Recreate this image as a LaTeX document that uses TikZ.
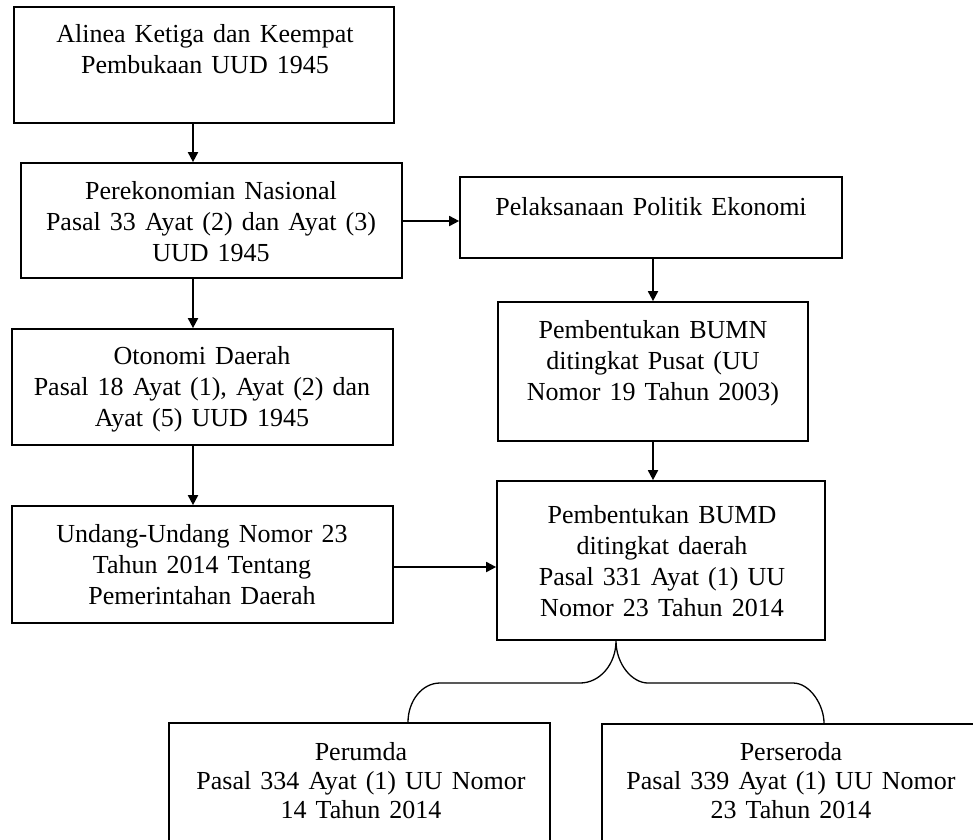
\documentclass[tikz,border=0pt]{standalone}
\usepackage{fontspec}
\setmainfont[WordSpace=1.4]{Liberation Serif}
\usetikzlibrary{arrows.meta}
\begin{document}
\begin{tikzpicture}[x=1pt,y=-1pt,
  box/.style={draw,line width=1.7pt,inner sep=0pt,rectangle},
  txt/.style={anchor=north,align=center,inner sep=0pt,
    font=\fontsize{26}{31}\selectfont},
  lowtxt/.style={txt,font=\fontsize{26}{29}\selectfont},
  arr/.style={line width=1.8pt,-{Triangle[length=10pt,width=10pt]}},
  brace/.style={line width=1.3pt}]
\useasboundingbox (0,0) rectangle (973,839);
\clip (0,0) rectangle (973,839);

% boxes
\node[box,minimum width=380pt,minimum height=116pt] (b1) at (204,65) {};
\node[box,minimum width=381pt,minimum height=115pt] (b2) at (211.5,220.5) {};
\node[box,minimum width=382pt,minimum height=81pt]  (b3) at (651,217.5) {};
\node[box,minimum width=381pt,minimum height=116pt] (b4) at (202.5,387) {};
\node[box,minimum width=310pt,minimum height=139pt] (b5) at (653,371.5) {};
\node[box,minimum width=381pt,minimum height=117pt] (b6) at (202.5,564.5) {};
\node[box,minimum width=328pt,minimum height=159pt] (b7) at (661,560.5) {};
\node[box,minimum width=381pt,minimum height=130pt] (b8) at (359.5,788) {};
\node[box,minimum width=378pt,minimum height=129pt] (b9) at (791,788.5) {};

% texts
\node[txt] (t1) at (205,24) {Alinea Ketiga dan Keempat\\Pembukaan UUD 1945};
\node[txt] (t2) at (211,181) {Perekonomian Nasional\\Pasal 33 Ayat (2) dan Ayat (3)\\UUD 1945};
\node[txt] (t3) at (651,197) {Pelaksanaan Politik Ekonomi};
\node[txt] (t4) at (202,346) {Otonomi Daerah\\Pasal 18 Ayat (1), Ayat (2) dan\\Ayat (5) UUD 1945};
\node[txt] (t5) at (653,320) {Pembentukan BUMN\\ditingkat Pusat (UU\\Nomor 19 Tahun 2003)};
\node[txt] (t6) at (202,524) {Undang-Undang Nomor 23\\Tahun 2014 Tentang\\Pemerintahan Daerah};
\node[txt] (t7) at (662,505) {Pembentukan BUMD\\ditingkat daerah\\Pasal 331 Ayat (1) UU\\Nomor 23 Tahun 2014};
\node[lowtxt] (t8) at (361,742) {Perumda\\Pasal 334 Ayat (1) UU Nomor\\14 Tahun 2014};
\node[lowtxt] (t9) at (791,742) {Perseroda\\Pasal 339 Ayat (1) UU Nomor\\23 Tahun 2014};

% guide positions of the connectors
\coordinate (cl) at (193,0);
\coordinate (cr) at (653,0);
\coordinate (r1) at (0,221);
\coordinate (r2) at (0,567);
\coordinate (tip) at (616,0);
\coordinate (bl) at (408,0);
\coordinate (br) at (824,0);
% corners of the brace
\coordinate (lc1) at (408,701);
\coordinate (lc2) at (422,683);
\coordinate (la) at (440,683);
\coordinate (lb) at (580,683);
\coordinate (lc3) at (600,683);
\coordinate (tc) at (616,664);
\coordinate (rc2) at (632,683);
\coordinate (ra) at (648,683);
\coordinate (rb) at (793,683);
\coordinate (rc3) at (810,683);
\coordinate (rc4) at (824,705);

% arrows
\draw[arr] (b1.south -| cl) -- (b2.north -| cl);
\draw[arr] (b2.south -| cl) -- (b4.north -| cl);
\draw[arr] (b4.south -| cl) -- (b6.north -| cl);
\draw[arr] (b2.east |- r1) -- (b3.west |- r1);
\draw[arr] (b3.south -| cr) -- (b5.north -| cr);
\draw[arr] (b5.south -| cr) -- (b7.north -| cr);
\draw[arr] (b6.east |- r2) -- (b7.west |- r2);

% brace from BUMD to the two forms
\draw[brace] (b8.north -| bl) .. controls (lc1) and (lc2) .. (la)
  -- (lb) .. controls (lc3) and (tc) .. (b7.south -| tip)
  .. controls (tc) and (rc2) .. (ra)
  -- (rb) .. controls (rc3) and (rc4) .. (b9.north -| br);
\end{tikzpicture}
\end{document}
